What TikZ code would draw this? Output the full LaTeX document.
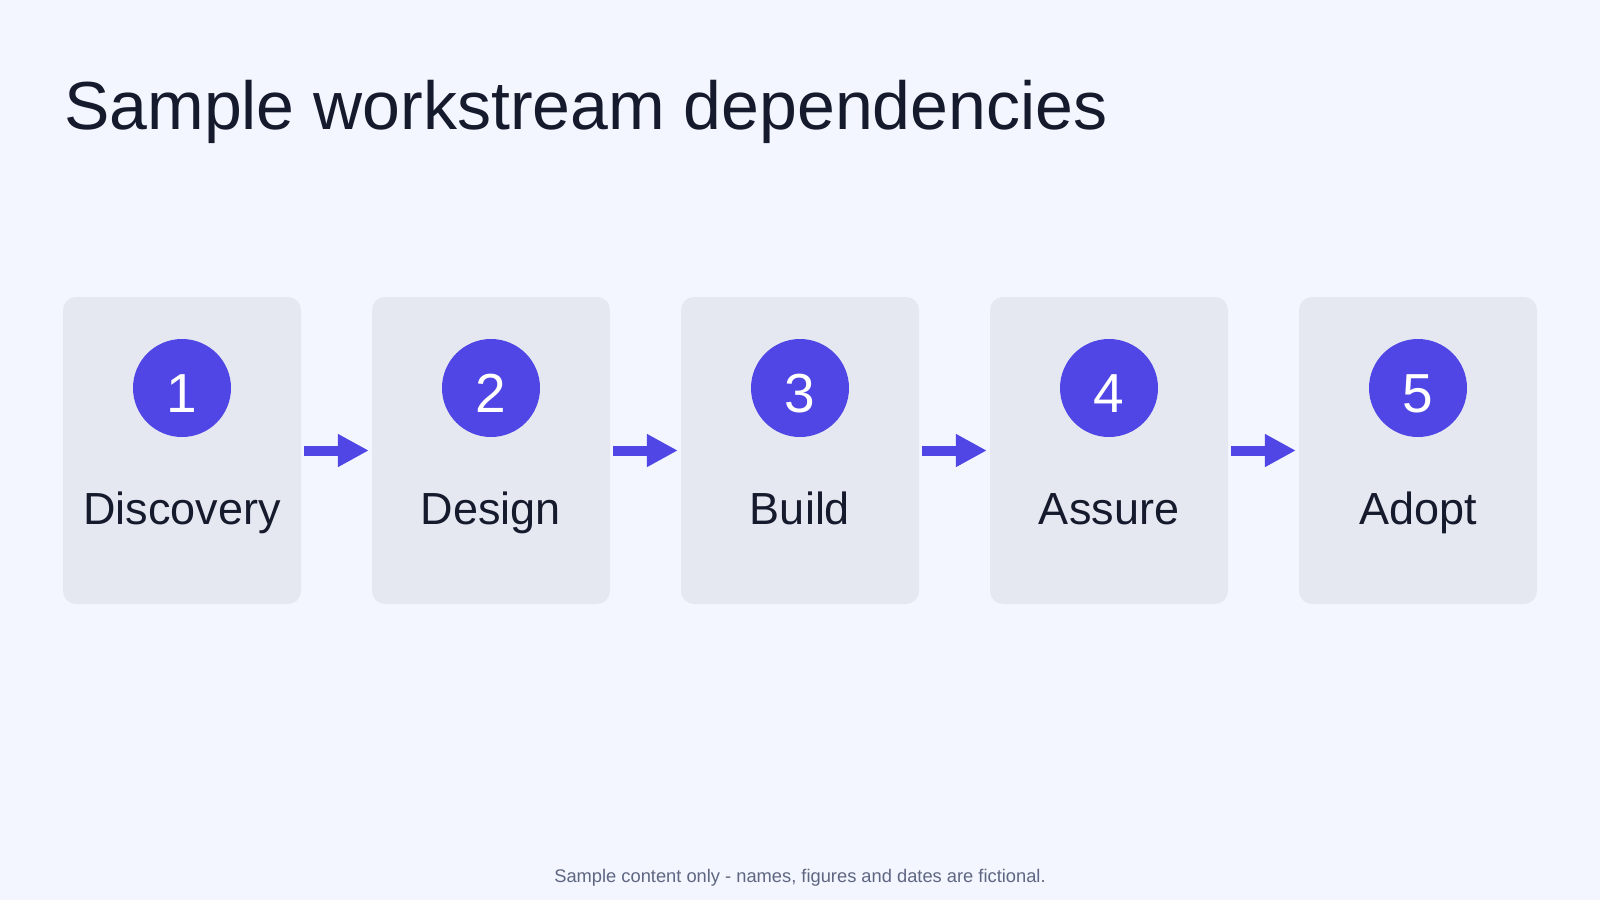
\documentclass[tikz,border=0pt]{standalone}
\usepackage{fontspec}
\setmainfont{Liberation Sans}
\usepackage{tikz}
\usetikzlibrary{positioning,arrows.meta,calc}

\definecolor{pagebg}{HTML}{F3F6FE}
\definecolor{boxbg}{HTML}{E5E8F1}
\definecolor{indigo}{HTML}{4F46E5}
\definecolor{ink}{HTML}{161A2D}
\definecolor{muted}{HTML}{5E6682}

\begin{document}
\begin{tikzpicture}[x=1pt,y=-1pt,node distance=309pt,on grid]

  \tikzset{
    stage/.style={fill=boxbg,rounded corners=13pt,minimum width=238pt,minimum height=307pt,inner sep=0pt},
    badge/.style={circle,fill=indigo,minimum size=98pt,inner sep=0pt,text height=48pt,text depth=0pt,text=white,font=\fontsize{55}{55}\selectfont},
    stagename/.style={anchor=base,text=ink,font=\fontsize{45}{45}\selectfont,inner sep=0pt},
    flow/.style={draw=indigo,line width=10pt,-{Triangle[length=31pt,width=31pt]},shorten <=3pt,shorten >=3pt},
  }

  \fill[pagebg] (0,0) rectangle (1600,900);
  \useasboundingbox (0,0) rectangle (1600,900);

  \node[anchor=base west,inner sep=0pt,text=ink,font=\fontsize{68}{68}\selectfont] (title) at (64,129) {Sample workstream dependencies};

  % STAGES

  \node[stage] (st1) at (182,450.5) {};
  \node[stage] (st2) [right=of st1] {};
  \node[stage] (st3) [right=of st2] {};
  \node[stage] (st4) [right=of st3] {};
  \node[stage] (st5) [right=of st4] {};

  \foreach \i/\name in {1/Discovery,2/Design,3/Build,4/Assure,5/Adopt}{
    \node[badge] (num\i) at ($(st\i.center)+(0,-62.5)$) {\i};
    \node[stagename] (lab\i) at ($(st\i.center)+(0,74)$) {\name};
  }

  % ARROWS

  \draw[flow] (st1) -- (st2);
  \draw[flow] (st2) -- (st3);
  \draw[flow] (st3) -- (st4);
  \draw[flow] (st4) -- (st5);

  \node[anchor=base,inner sep=0pt,text=muted,font=\fontsize{18.3}{18.3}\selectfont] (note) at (800,882) {Sample content only - names, figures and dates are fictional.};

\end{tikzpicture}
\end{document}
